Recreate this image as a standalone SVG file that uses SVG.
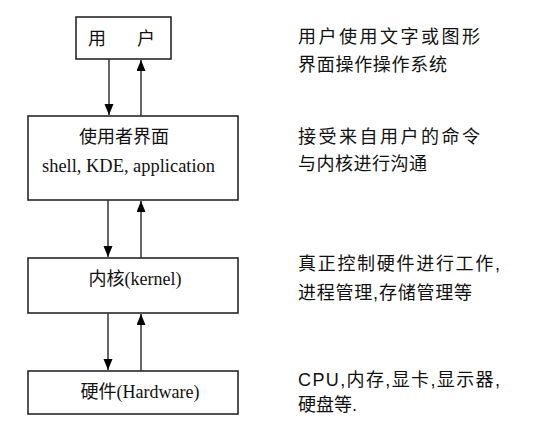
<svg xmlns="http://www.w3.org/2000/svg" width="546" height="431" viewBox="0 0 546 431">
<style>
.box{fill:#fff;stroke:#1a1a1a;stroke-width:1.5}
.lbl{font-family:"Liberation Serif","Noto Sans CJK SC",serif;font-size:18px;fill:#111}
.note{font-family:"Liberation Sans","Noto Sans CJK SC",sans-serif;font-size:18px;fill:#111}
.conn{stroke:#333;stroke-width:1.5;fill:none;marker-end:url(#ah)}
</style>
<defs>
<marker id="ah" markerUnits="userSpaceOnUse" markerWidth="11" markerHeight="10" refX="11" refY="4.5" orient="auto">
<path d="M0,0 L11,4.5 L0,9 z" fill="#000"/>
</marker>
</defs>
<rect width="546" height="431" fill="#fff"/>
<g id="user">
<rect class="box" x="76" y="17" width="95" height="42"/>
<text class="lbl"><tspan x="88" y="45">用</tspan><tspan x="137" y="45">户</tspan></text>
</g>
<g id="ui">
<rect class="box" x="28" y="116" width="210" height="84"/>
<text class="lbl" x="124" y="143" text-anchor="middle">使用者界面</text>
<text class="lbl" x="42" y="172" textLength="173" lengthAdjust="spacingAndGlyphs">shell, KDE, application</text>
</g>
<g id="kernel">
<rect class="box" x="28" y="258" width="210" height="55"/>
<text class="lbl" x="135" y="285" text-anchor="middle">内核(kernel)</text>
</g>
<g id="hardware">
<rect class="box" x="28" y="371" width="210" height="43"/>
<text class="lbl" x="140" y="398" text-anchor="middle">硬件(Hardware)</text>
</g>
<g id="connectors">
<line class="conn" x1="109" y1="59" x2="109" y2="115"/>
<line class="conn" x1="141" y1="116" x2="141" y2="60"/>
<line class="conn" x1="108" y1="200" x2="108" y2="257"/>
<line class="conn" x1="141" y1="258" x2="141" y2="201"/>
<line class="conn" x1="108" y1="313" x2="108" y2="370"/>
<line class="conn" x1="141" y1="371" x2="141" y2="314"/>
</g>
<g id="notes">
<text class="note" x="298" y="43" textLength="182" lengthAdjust="spacing">用户使用文字或图形</text>
<text class="note" x="298" y="71" textLength="149" lengthAdjust="spacing">界面操作操作系统</text>
<text class="note" x="298" y="143" textLength="182" lengthAdjust="spacing">接受来自用户的命令</text>
<text class="note" x="298" y="170" textLength="129" lengthAdjust="spacing">与内核进行沟通</text>
<text class="note" x="298" y="270" textLength="202" lengthAdjust="spacing">真正控制硬件进行工作,</text>
<text class="note" x="298" y="299" textLength="174" lengthAdjust="spacing">进程管理,存储管理等</text>
<text class="note" x="298" y="386" textLength="202" lengthAdjust="spacing">CPU,内存,显卡,显示器,</text>
<text class="note" x="298" y="411">硬盘等.</text>
</g>
</svg>
